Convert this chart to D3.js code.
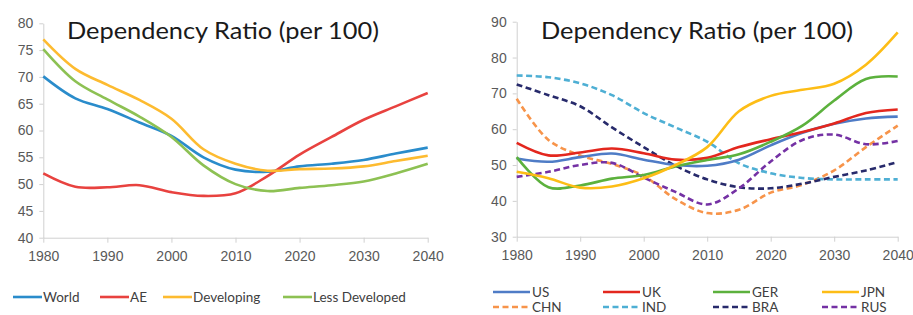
<!DOCTYPE html>
<html>
<head>
<meta charset="utf-8">
<script src="https://cdn.jsdelivr.net/npm/d3@7"></script>
<style>
  body { margin: 0; background: #fff; }
  svg { display: block; font-family: Lato, "Open Sans", sans-serif; }
  .tick text { fill: #595959; font-size: 14px; }
  .tick line, .domain { stroke: #d0d0d0; }
  .legend text { fill: #404040; font-size: 13.5px; }
  .title { fill: #1a1a1a; font-size: 23px; }
</style>
</head>
<body>
<script>
// Data, 5 year steps
var years = [1980, 1985, 1990, 1995, 2000, 2005, 2010,
             2015, 2020, 2025, 2030, 2035, 2040];

// Left chart
var world = [70.1, 66, 64, 61.5, 59, 55, 52.7, 52.3, 53.3, 53.8, 54.5, 55.7, 56.8];
var ae = [52, 49.5, 49.4, 49.8, 48.5, 47.8, 48.3, 51.5, 55.5, 58.8, 62, 64.5, 67];
var developing = [77, 71.5, 68.5, 65.7, 62.2, 56.5, 53.8, 52.5, 52.8, 52.9, 53.3, 54.3, 55.3];
var lessDeveloped = [75.2, 69.2, 65.8, 62.6, 58.8, 53.5, 50, 48.7, 49.3, 49.8, 50.5, 52, 53.8];
var leftTicks = [40, 45, 50, 55, 60, 65, 70, 75, 80];

// Right chart
var us = [51.8, 50.9, 52.2, 53.2, 51.5, 50, 49.8, 51.5, 55.5, 59, 61.5, 63, 63.5];
var uk = [56.2, 52.7, 53.5, 54.6, 53.3, 51.5, 52, 55, 57.2, 59.2, 61.6, 64.5, 65.5];
var ger = [52.2, 43.8, 44.3, 46.2, 47.2, 49.6, 51.4, 53, 56.5, 61, 68, 74, 74.7];
var jpn = [48.1, 46.3, 43.7, 44, 46.3, 50, 55, 65, 69.3, 71, 72.7, 78, 87];
var chn = [68.5, 57, 52.7, 50.3, 47, 40.5, 36.6, 37.5, 42.3, 44.5, 48.5, 55, 61];
var ind = [75, 74.5, 72.8, 69.5, 64.5, 60.5, 56.5, 50.5, 47.7, 46.4, 46, 46, 46];
var bra = [72.5, 69.5, 66.4, 60.5, 55, 49.8, 46, 43.8, 43.5, 44.8, 46.7, 48.5, 50.8];
var rus = [46.7, 48.1, 50, 50.6, 46.5, 42.5, 39, 43.5, 51, 57, 58.5, 55.8, 56.7];
var rightTicks = [30, 40, 50, 60, 70, 80, 90];

var xTicks = [1980, 1990, 2000, 2010, 2020, 2030, 2040];
var titleText = "Dependency Ratio (per 100)";

var svg = d3.select("body").append("svg")
    .attr("width", 913)
    .attr("height", 315);

//Draws one panel: axes, title and the lines
function panel(opt) {
    var x = d3.scaleLinear().domain([1980, 2040]).range(opt.xr);
    var y = d3.scaleLinear().domain(opt.yd).range(opt.yr);
    var g = svg.append("g");

    g.append("g")
        .attr("transform", "translate(" + opt.xr[0] + ",0)")
        .call(d3.axisLeft(y).tickValues(opt.yTicks).tickSize(4)
            .tickSizeOuter(0).tickPadding(5))
        .selectAll(".tick text").attr("dx", "-1");

    g.append("g")
        .attr("transform", "translate(0," + opt.yr[0] + ")")
        .call(d3.axisBottom(x).tickValues(xTicks).tickSize(5)
            .tickSizeOuter(0).tickFormat(d3.format("d")).tickPadding(8));

    g.append("text")
        .attr("class", "title")
        .attr("x", opt.titleX)
        .attr("y", 39)
        .attr("textLength", 312)
        .attr("lengthAdjust", "spacingAndGlyphs")
        .text(titleText);

    var line = d3.line()
        .x(function(d, i) { return x(years[i]); })
        .y(function(d) { return y(d); })
        .curve(d3.curveCatmullRom.alpha(0.5));

    opt.series.forEach(function(s) {
        g.append("path")
            .datum(s.values)
            .attr("fill", "none")
            .attr("stroke", s.color)
            .attr("stroke-width", 2.6)
            .attr("stroke-dasharray", s.dash ? "6,3.5" : null)
            .attr("d", line);
    });
    return g;
}

var leftSeries = [
    {name: "World", values: world, color: "#2a8ccb"},
    {name: "AE", values: ae, color: "#e8423f"},
    {name: "Developing", values: developing, color: "#fdbb30"},
    {name: "Less Developed", values: lessDeveloped, color: "#8dc153"}
];
var rightSeries = [
    {name: "US", values: us, color: "#4f7cc6"},
    {name: "UK", values: uk, color: "#e3271e"},
    {name: "GER", values: ger, color: "#5cb13d"},
    {name: "JPN", values: jpn, color: "#fdbd16"},
    {name: "CHN", values: chn, color: "#f7944a", dash: true},
    {name: "IND", values: ind, color: "#4eafd4", dash: true},
    {name: "BRA", values: bra, color: "#272a6b", dash: true},
    {name: "RUS", values: rus, color: "#7431a4", dash: true}
];

// draw dashed lines below solid ones on the right
panel({xr: [43.3, 427.7], yd: [40, 80], yr: [237.7, 23.3],
       yTicks: leftTicks, titleX: 67, series: leftSeries});
panel({xr: [516.7, 897.7], yd: [30, 90], yr: [236.7, 21.7],
       yTicks: rightTicks, titleX: 541,
       series: rightSeries.slice(4).concat(rightSeries.slice(0, 4))});

//Legends
var leftLegX = [13, 100, 163, 283];
var leg1 = svg.append("g").attr("class", "legend");
leftSeries.forEach(function(s, i) {
    leg1.append("line")
        .attr("x1", leftLegX[i]).attr("x2", leftLegX[i] + 29)
        .attr("y1", 297).attr("y2", 297)
        .attr("stroke", s.color).attr("stroke-width", 2.6);
    leg1.append("text")
        .attr("x", leftLegX[i] + 30).attr("y", 302)
        .text(s.name);
});

var rightLegX = [493, 603, 713, 822];
var leg2 = svg.append("g").attr("class", "legend");
rightSeries.forEach(function(s, i) {
    var lx = rightLegX[i % 4], ly = i < 4 ? 292 : 307;
    leg2.append("line")
        .attr("x1", lx).attr("x2", lx + 37)
        .attr("y1", ly).attr("y2", ly)
        .attr("stroke", s.color).attr("stroke-width", 2.6)
        .attr("stroke-dasharray", s.dash ? "6,3.5" : null);
    leg2.append("text")
        .attr("x", lx + 39).attr("y", ly + 5)
        .text(s.name);
});
</script>
</body>
</html>
